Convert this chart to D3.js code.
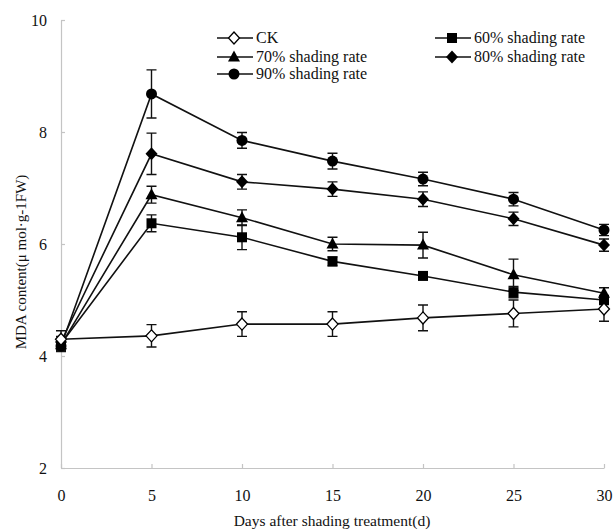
<!DOCTYPE html>
<html><head><meta charset="utf-8">
<script src="https://cdn.jsdelivr.net/npm/d3@7"></script>
<style>body{margin:0;background:#fff}svg{display:block}svg text{font-family:"Liberation Serif","Times New Roman",serif !important;fill:#111}</style>
</head><body><svg id="c" width="613" height="532"></svg>
<script>
const days = [0, 5, 10, 15, 20, 25, 30];
const seriesNames = ["CK", "60% shading rate", "70% shading rate", "80% shading rate", "90% shading rate"];
const ck     = [4.30, 4.36, 4.57, 4.57, 4.68, 4.76, 4.84];
const ckErr  = [0.15, 0.20, 0.22, 0.22, 0.23, 0.24, 0.22];
const s60    = [4.22, 6.37, 6.12, 5.69, 5.43, 5.14, 5.00];
const s60Err = [0.10, 0.15, 0.22, 0.08, 0.06, 0.10, 0.08];
const s70    = [4.20, 6.88, 6.47, 6.00, 5.98, 5.45, 5.12];
const s70Err = [0.10, 0.15, 0.14, 0.12, 0.23, 0.28, 0.10];
const s80    = [4.25, 7.61, 7.11, 6.98, 6.80, 6.45, 5.98];
const s80Err = [0.10, 0.37, 0.13, 0.13, 0.13, 0.12, 0.11];
const s90    = [4.18, 8.68, 7.85, 7.48, 7.16, 6.80, 6.25];
const s90Err = [0.10, 0.43, 0.14, 0.14, 0.12, 0.12, 0.10];
const xTicks = [0, 5, 10, 15, 20, 25, 30];
const yTicks = [2, 4, 6, 8, 10];

const series = [
  {name: seriesNames[0], v: ck,  e: ckErr,  sym: "diamondOpen"},
  {name: seriesNames[1], v: s60, e: s60Err, sym: "square"},
  {name: seriesNames[2], v: s70, e: s70Err, sym: "triangle"},
  {name: seriesNames[3], v: s80, e: s80Err, sym: "diamond"},
  {name: seriesNames[4], v: s90, e: s90Err, sym: "circle"}
];

const FONT = '"Liberation Serif","Times New Roman",serif';
const svg = d3.select("#c");
const x = d3.scaleLinear().domain([0, 30]).range([61, 604]);
const y = d3.scaleLinear().domain([2, 10]).range([468, 20]);
const axisColor = "#c4c4c4";

// axes
const gx = svg.append("g").attr("transform", `translate(0,${y(2)})`)
  .call(d3.axisBottom(x).tickValues(xTicks).tickSize(-4).tickPadding(22).tickSizeOuter(0));
const gy = svg.append("g").attr("transform", `translate(${x(0)},0)`)
  .call(d3.axisLeft(y).tickValues(yTicks).tickSize(-4).tickPadding(14).tickSizeOuter(0));
[gx, gy].forEach(g => {
  g.attr("font-family", FONT).attr("font-size", 16);
  g.select(".domain").attr("stroke", axisColor).attr("stroke-width", 1.2);
  g.selectAll(".tick line").attr("stroke", axisColor).attr("stroke-width", 1.2);
  g.selectAll(".tick text").style("font-family", FONT).style("font-size", "16px").attr("fill", "#111");
});
gy.selectAll(".tick text").attr("x", -14);

svg.append("text").attr("x", 332).attr("y", 526).attr("text-anchor", "middle")
  .style("font-family", FONT).style("font-size", "15.5px").text("Days after shading treatment(d)");
svg.append("text").attr("transform", "translate(26,262) rotate(-90)").attr("text-anchor", "middle")
  .style("font-family", FONT).style("font-size", "15px").text("MDA content(\u03bc mol\u00b7g-1FW)");

function drawMarker(g, sym, cx, cy) {
  if (sym === "circle") {
    g.append("circle").attr("cx", cx).attr("cy", cy).attr("r", 5.5).attr("fill", "#000");
  } else if (sym === "square") {
    g.append("rect").attr("x", cx - 5).attr("y", cy - 5).attr("width", 10).attr("height", 10).attr("fill", "#000");
  } else if (sym === "triangle") {
    g.append("path").attr("d", `M${cx},${cy - 6.5}L${cx + 6},${cy + 4.5}L${cx - 6},${cy + 4.5}Z`).attr("fill", "#000");
  } else if (sym === "diamond") {
    g.append("path").attr("d", `M${cx},${cy - 6.5}L${cx + 6},${cy}L${cx},${cy + 6.5}L${cx - 6},${cy}Z`).attr("fill", "#000");
  } else {
    g.append("path").attr("d", `M${cx},${cy - 6}L${cx + 5.5},${cy}L${cx},${cy + 6}L${cx - 5.5},${cy}Z`)
      .attr("fill", "#fff").attr("stroke", "#000").attr("stroke-width", 1.3);
  }
}

const line = d3.line().x((d, i) => x(days[i])).y(d => y(d));
const plot = svg.append("g");
series.forEach(s => {
  plot.append("path").attr("d", line(s.v)).attr("fill", "none").attr("stroke", "#111").attr("stroke-width", 1.6);
});
series.forEach(s => {
  const g = plot.append("g");
  s.v.forEach((v, i) => {
    const cx = x(days[i]), t = y(v + s.e[i]), b = y(v - s.e[i]);
    g.append("path").attr("d", `M${cx},${t}V${b}M${cx - 5},${t}H${cx + 5}M${cx - 5},${b}H${cx + 5}`)
      .attr("stroke", "#111").attr("stroke-width", 1.4).attr("fill", "none");
  });
});
[1, 2, 3, 4, 0].forEach(k => {
  const s = series[k];
  const g = plot.append("g");
  s.v.forEach((v, i) => drawMarker(g, s.sym, x(days[i]), y(v)));
});

// legend
const legendPos = [[217, 38], [435, 38], [217, 57], [435, 57], [217, 74]];
series.forEach((s, k) => {
  const [lx, ly] = legendPos[k];
  const g = svg.append("g");
  g.append("line").attr("x1", lx).attr("x2", lx + 36).attr("y1", ly).attr("y2", ly)
    .attr("stroke", "#111").attr("stroke-width", 1.6);
  drawMarker(g, s.sym, lx + 17, ly);
  g.append("text").attr("x", lx + 39).attr("y", ly + 5)
    .style("font-family", FONT).style("font-size", "16px").text(s.name);
});
</script></body></html>
